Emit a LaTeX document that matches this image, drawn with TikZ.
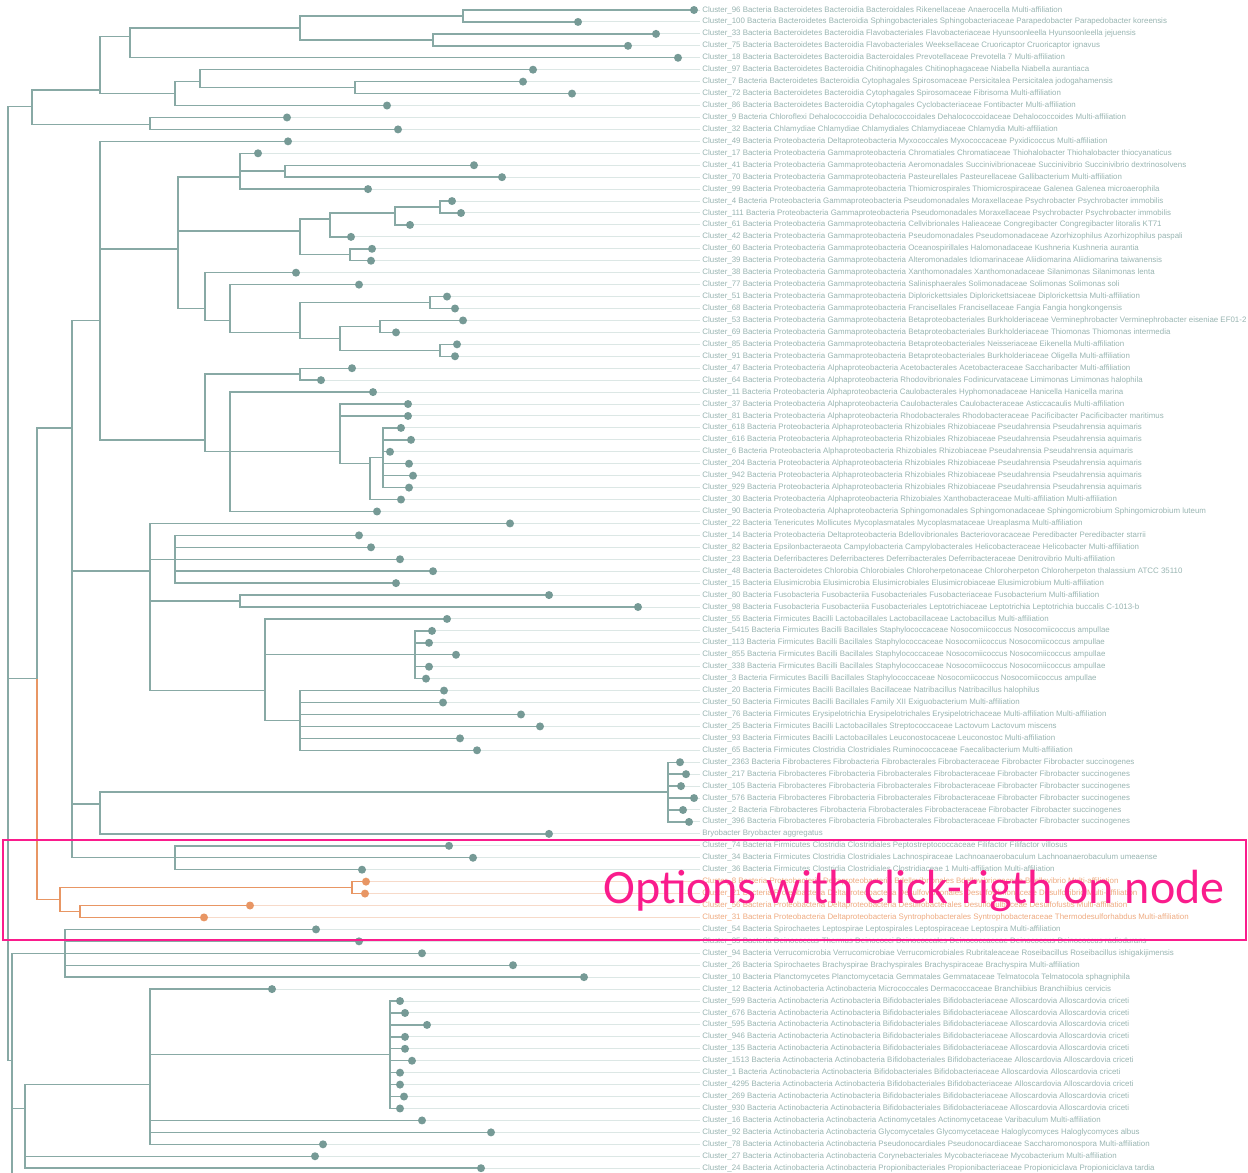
\documentclass[tikz,border=0pt]{standalone}
\usepackage{fontspec}
\setmainfont{Liberation Sans}
\newfontfamily\boxfont{Carlito}
\usetikzlibrary{calc}

\definecolor{treeline}{RGB}{136,169,165}
\definecolor{tipfill}{RGB}{118,154,150}
\definecolor{twigline}{RGB}{220,231,229}
\definecolor{labelgray}{RGB}{152,180,177}
\definecolor{pathorange}{RGB}{232,150,100}
\definecolor{labelorange}{RGB}{238,170,128}
\definecolor{hotpink}{RGB}{250,28,140}

\begin{document}
\begin{tikzpicture}[x=0.5pt, y=-5.97pt,
    branch/.style={draw=treeline, line width=0.7pt},
    hotbranch/.style={draw=pathorange, line width=0.7pt},
    twig/.style={draw=twigline, line width=0.5pt},
    leaflabel/.style={anchor=west, inner sep=1pt, text=labelgray, font=\fontsize{3.95}{4.4}\selectfont},
    hotlabel/.style={leaflabel, text=labelorange}]
    \useasboundingbox (0,-0.8375) rectangle (1248,97.40);

    % internal nodes
    \coordinate (rt)  at (8,52);
    \coordinate (cA)  at (32,8.1);
    \coordinate (bac) at (100,6.7);
    \coordinate (b04) at (130,2.2);
    \coordinate (b03) at (300,1.5);
    \coordinate (b01) at (463,0.5);
    \coordinate (b23) at (433,2.5);
    \coordinate (b58) at (175,7);
    \coordinate (b57) at (200,6);
    \coordinate (b67) at (355,6.5);
    \coordinate (cc)  at (150,9.6);
    \coordinate (mid) at (37,56);
    \coordinate (pro) at (72,35);
    \coordinate (prA) at (100,26);
    \coordinate (gam) at (178,20);
    \coordinate (g1215) at (240,14);
    \coordinate (g1314) at (285,13.5);
    \coordinate (g1621) at (300,18.5);
    \coordinate (g1619) at (330,17.5);
    \coordinate (g1618) at (395,17);
    \coordinate (g1617) at (440,16.5);
    \coordinate (g2021) at (350,20.5);
    \coordinate (g2229) at (205,25);
    \coordinate (g2329) at (230,26);
    \coordinate (g2425) at (430,24.5);
    \coordinate (g2429) at (300,27);
    \coordinate (b2629) at (340,27.5);
    \coordinate (b2627) at (380,26.5);
    \coordinate (b2829) at (440,28.5);
    \coordinate (alp) at (205,36);
    \coordinate (a3031) at (300,30.5);
    \coordinate (a3242) at (230,37);
    \coordinate (a3341) at (340,37);
    \coordinate (a3541) at (370,38);
    \coordinate (a3540) at (383,37.5);
    \coordinate (prB) at (150,47);
    \coordinate (p4448) at (175,46);
    \coordinate (fus) at (240,49.5);
    \coordinate (fir) at (265,57);
    \coordinate (sta) at (415,54);
    \coordinate (f5762) at (300,59.5);
    \coordinate (fib) at (100,66.5);
    \coordinate (fibr) at (668,65.5);
    \coordinate (clo) at (175,71);
    \coordinate (hot) at (37,74.5);
    \coordinate (o1) at (60,74.5);
    \coordinate (o2) at (352,73.5);
    \coordinate (o3) at (80,75.5);
    \coordinate (low) at (12,88);
    \coordinate (l7781) at (65,79);
    \coordinate (act) at (25,92);
    \coordinate (a8392) at (390,87.5);
    \coordinate (a8297) at (150,90);
    \coordinate (off) at (12,97.6);

    % internal links
    \foreach \p/\c in {rt/cA, rt/mid, rt/low, cA/bac, cA/cc, bac/b04, bac/b58,
        b04/b03, b03/b01, b03/b23, b58/b57, b57/b67,
        mid/pro, pro/prA, pro/prB, pro/fib, pro/clo, prA/gam, prA/alp,
        gam/g1215, g1215/g1314, gam/g1621, g1621/g1619, g1619/g1618, g1618/g1617,
        g1621/g2021, gam/g2229, g2229/g2329, g2329/g2429, g2429/g2425, g2429/b2629,
        b2629/b2627, b2629/b2829, alp/a3031, alp/a3242, a3242/a3341, a3341/a3541,
        a3541/a3540, prB/p4448, prB/fus, prB/fir, fir/sta, fir/f5762, fib/fibr,
        low/l7781, low/act, act/a8297, a8297/a8392, low/off}
        \draw[branch] (\p) |- (\c);
    \draw[hotbranch] (mid) -- (hot);
    \draw[hotbranch] (hot) -- (o1);
    \draw[hotbranch] (o1) |- (o2);
    \draw[hotbranch] (o1) |- (o3);

    % leaves
    \foreach \n/\r/\d/\p/\t in {
        t0/0/694/b01/Cluster\_96 Bacteria Bacteroidetes Bacteroidia Bacteroidales Rikenellaceae Anaerocella Multi-affiliation,
        t1/1/578/b01/Cluster\_100 Bacteria Bacteroidetes Bacteroidia Sphingobacteriales Sphingobacteriaceae Parapedobacter Parapedobacter koreensis,
        t2/2/656/b23/Cluster\_33 Bacteria Bacteroidetes Bacteroidia Flavobacteriales Flavobacteriaceae Hyunsoonleella Hyunsoonleella jejuensis,
        t3/3/628/b23/Cluster\_75 Bacteria Bacteroidetes Bacteroidia Flavobacteriales Weeksellaceae Cruoricaptor Cruoricaptor ignavus,
        t4/4/678/b04/Cluster\_18 Bacteria Bacteroidetes Bacteroidia Bacteroidales Prevotellaceae Prevotella 7 Multi-affiliation,
        t5/5/533/b57/Cluster\_97 Bacteria Bacteroidetes Bacteroidia Chitinophagales Chitinophagaceae Niabella Niabella aurantiaca,
        t6/6/523/b67/Cluster\_7 Bacteria Bacteroidetes Bacteroidia Cytophagales Spirosomaceae Persicitalea Persicitalea jodogahamensis,
        t7/7/572/b67/Cluster\_72 Bacteria Bacteroidetes Bacteroidia Cytophagales Spirosomaceae Fibrisoma Multi-affiliation,
        t8/8/387/b58/Cluster\_86 Bacteria Bacteroidetes Bacteroidia Cytophagales Cyclobacteriaceae Fontibacter Multi-affiliation,
        t9/9/287/cc/Cluster\_9 Bacteria Chloroflexi Dehalococcoidia Dehalococcoidales Dehalococcoidaceae Dehalococcoides Multi-affiliation,
        t10/10/398/cc/Cluster\_32 Bacteria Chlamydiae Chlamydiae Chlamydiales Chlamydiaceae Chlamydia Multi-affiliation,
        t11/11/288/prA/Cluster\_49 Bacteria Proteobacteria Deltaproteobacteria Myxococcales Myxococcaceae Pyxidicoccus Multi-affiliation,
        t12/12/258/g1215/Cluster\_17 Bacteria Proteobacteria Gammaproteobacteria Chromatiales Chromatiaceae Thiohalobacter Thiohalobacter thiocyanaticus,
        t13/13/474/g1314/Cluster\_41 Bacteria Proteobacteria Gammaproteobacteria Aeromonadales Succinivibrionaceae Succinivibrio Succinivibrio dextrinosolvens,
        t14/14/502/g1314/Cluster\_70 Bacteria Proteobacteria Gammaproteobacteria Pasteurellales Pasteurellaceae Gallibacterium Multi-affiliation,
        t15/15/368/g1215/Cluster\_99 Bacteria Proteobacteria Gammaproteobacteria Thiomicrospirales Thiomicrospiraceae Galenea Galenea microaerophila,
        t16/16/452/g1617/Cluster\_4 Bacteria Proteobacteria Gammaproteobacteria Pseudomonadales Moraxellaceae Psychrobacter Psychrobacter immobilis,
        t17/17/461/g1617/Cluster\_111 Bacteria Proteobacteria Gammaproteobacteria Pseudomonadales Moraxellaceae Psychrobacter Psychrobacter immobilis,
        t18/18/410/g1618/Cluster\_61 Bacteria Proteobacteria Gammaproteobacteria Cellvibrionales Halieaceae Congregibacter Congregibacter litoralis KT71,
        t19/19/351/g1619/Cluster\_42 Bacteria Proteobacteria Gammaproteobacteria Pseudomonadales Pseudomonadaceae Azorhizophilus Azorhizophilus paspali,
        t20/20/372/g2021/Cluster\_60 Bacteria Proteobacteria Gammaproteobacteria Oceanospirillales Halomonadaceae Kushneria Kushneria aurantia,
        t21/21/371/g2021/Cluster\_39 Bacteria Proteobacteria Gammaproteobacteria Alteromonadales Idiomarinaceae Aliidiomarina Aliidiomarina taiwanensis,
        t22/22/296/g2229/Cluster\_38 Bacteria Proteobacteria Gammaproteobacteria Xanthomonadales Xanthomonadaceae Silanimonas Silanimonas lenta,
        t23/23/359/g2329/Cluster\_77 Bacteria Proteobacteria Gammaproteobacteria Salinisphaerales Solimonadaceae Solimonas Solimonas soli,
        t24/24/447/g2425/Cluster\_51 Bacteria Proteobacteria Gammaproteobacteria Diplorickettsiales Diplorickettsiaceae Diplorickettsia Multi-affiliation,
        t25/25/455/g2425/Cluster\_68 Bacteria Proteobacteria Gammaproteobacteria Francisellales Francisellaceae Fangia Fangia hongkongensis,
        t26/26/463/b2627/Cluster\_53 Bacteria Proteobacteria Gammaproteobacteria Betaproteobacteriales Burkholderiaceae Verminephrobacter Verminephrobacter eiseniae EF01-2,
        t27/27/396/b2627/Cluster\_69 Bacteria Proteobacteria Gammaproteobacteria Betaproteobacteriales Burkholderiaceae Thiomonas Thiomonas intermedia,
        t28/28/457/b2829/Cluster\_85 Bacteria Proteobacteria Gammaproteobacteria Betaproteobacteriales Neisseriaceae Eikenella Multi-affiliation,
        t29/29/455/b2829/Cluster\_91 Bacteria Proteobacteria Gammaproteobacteria Betaproteobacteriales Burkholderiaceae Oligella Multi-affiliation,
        t30/30/352/a3031/Cluster\_47 Bacteria Proteobacteria Alphaproteobacteria Acetobacterales Acetobacteraceae Saccharibacter Multi-affiliation,
        t31/31/321/a3031/Cluster\_64 Bacteria Proteobacteria Alphaproteobacteria Rhodovibrionales Fodinicurvataceae Limimonas Limimonas halophila,
        t32/32/373/a3242/Cluster\_11 Bacteria Proteobacteria Alphaproteobacteria Caulobacterales Hyphomonadaceae Hanicella Hanicella marina,
        t33/33/408/a3341/Cluster\_37 Bacteria Proteobacteria Alphaproteobacteria Caulobacterales Caulobacteraceae Asticcacaulis Multi-affiliation,
        t34/34/408/a3341/Cluster\_81 Bacteria Proteobacteria Alphaproteobacteria Rhodobacterales Rhodobacteraceae Pacificibacter Pacificibacter maritimus,
        t35/35/401/a3540/Cluster\_618 Bacteria Proteobacteria Alphaproteobacteria Rhizobiales Rhizobiaceae Pseudahrensia Pseudahrensia aquimaris,
        t36/36/411/a3540/Cluster\_616 Bacteria Proteobacteria Alphaproteobacteria Rhizobiales Rhizobiaceae Pseudahrensia Pseudahrensia aquimaris,
        t37/37/390/a3540/Cluster\_6 Bacteria Proteobacteria Alphaproteobacteria Rhizobiales Rhizobiaceae Pseudahrensia Pseudahrensia aquimaris,
        t38/38/409/a3540/Cluster\_204 Bacteria Proteobacteria Alphaproteobacteria Rhizobiales Rhizobiaceae Pseudahrensia Pseudahrensia aquimaris,
        t39/39/413/a3540/Cluster\_942 Bacteria Proteobacteria Alphaproteobacteria Rhizobiales Rhizobiaceae Pseudahrensia Pseudahrensia aquimaris,
        t40/40/409/a3540/Cluster\_929 Bacteria Proteobacteria Alphaproteobacteria Rhizobiales Rhizobiaceae Pseudahrensia Pseudahrensia aquimaris,
        t41/41/401/a3541/Cluster\_30 Bacteria Proteobacteria Alphaproteobacteria Rhizobiales Xanthobacteraceae Multi-affiliation Multi-affiliation,
        t42/42/377/a3242/Cluster\_90 Bacteria Proteobacteria Alphaproteobacteria Sphingomonadales Sphingomonadaceae Sphingomicrobium Sphingomicrobium luteum,
        t43/43/510/prB/Cluster\_22 Bacteria Tenericutes Mollicutes Mycoplasmatales Mycoplasmataceae Ureaplasma Multi-affiliation,
        t44/44/359/p4448/Cluster\_14 Bacteria Proteobacteria Deltaproteobacteria Bdellovibrionales Bacteriovoracaceae Peredibacter Peredibacter starrii,
        t45/45/371/p4448/Cluster\_82 Bacteria Epsilonbacteraeota Campylobacteria Campylobacterales Helicobacteraceae Helicobacter Multi-affiliation,
        t46/46/400/p4448/Cluster\_23 Bacteria Deferribacteres Deferribacteres Deferribacterales Deferribacteraceae Denitrovibrio Multi-affiliation,
        t47/47/433/p4448/Cluster\_48 Bacteria Bacteroidetes Chlorobia Chlorobiales Chloroherpetonaceae Chloroherpeton Chloroherpeton thalassium ATCC 35110,
        t48/48/396/p4448/Cluster\_15 Bacteria Elusimicrobia Elusimicrobia Elusimicrobiales Elusimicrobiaceae Elusimicrobium Multi-affiliation,
        t49/49/549/fus/Cluster\_80 Bacteria Fusobacteria Fusobacteriia Fusobacteriales Fusobacteriaceae Fusobacterium Multi-affiliation,
        t50/50/638/fus/Cluster\_98 Bacteria Fusobacteria Fusobacteriia Fusobacteriales Leptotrichiaceae Leptotrichia Leptotrichia buccalis C-1013-b,
        t51/51/447/fir/Cluster\_55 Bacteria Firmicutes Bacilli Lactobacillales Lactobacillaceae Lactobacillus Multi-affiliation,
        t52/52/432/sta/Cluster\_5415 Bacteria Firmicutes Bacilli Bacillales Staphylococcaceae Nosocomiicoccus Nosocomiicoccus ampullae,
        t53/53/429/sta/Cluster\_113 Bacteria Firmicutes Bacilli Bacillales Staphylococcaceae Nosocomiicoccus Nosocomiicoccus ampullae,
        t54/54/456/sta/Cluster\_855 Bacteria Firmicutes Bacilli Bacillales Staphylococcaceae Nosocomiicoccus Nosocomiicoccus ampullae,
        t55/55/429/sta/Cluster\_338 Bacteria Firmicutes Bacilli Bacillales Staphylococcaceae Nosocomiicoccus Nosocomiicoccus ampullae,
        t56/56/426/sta/Cluster\_3 Bacteria Firmicutes Bacilli Bacillales Staphylococcaceae Nosocomiicoccus Nosocomiicoccus ampullae,
        t57/57/444/f5762/Cluster\_20 Bacteria Firmicutes Bacilli Bacillales Bacillaceae Natribacillus Natribacillus halophilus,
        t58/58/443/f5762/Cluster\_50 Bacteria Firmicutes Bacilli Bacillales Family XII Exiguobacterium Multi-affiliation,
        t59/59/521/f5762/Cluster\_76 Bacteria Firmicutes Erysipelotrichia Erysipelotrichales Erysipelotrichaceae Multi-affiliation Multi-affiliation,
        t60/60/540/f5762/Cluster\_25 Bacteria Firmicutes Bacilli Lactobacillales Streptococcaceae Lactovum Lactovum miscens,
        t61/61/460/f5762/Cluster\_93 Bacteria Firmicutes Bacilli Lactobacillales Leuconostocaceae Leuconostoc Multi-affiliation,
        t62/62/477/f5762/Cluster\_65 Bacteria Firmicutes Clostridia Clostridiales Ruminococcaceae Faecalibacterium Multi-affiliation,
        t63/63/680/fibr/Cluster\_2363 Bacteria Fibrobacteres Fibrobacteria Fibrobacterales Fibrobacteraceae Fibrobacter Fibrobacter succinogenes,
        t64/64/686/fibr/Cluster\_217 Bacteria Fibrobacteres Fibrobacteria Fibrobacterales Fibrobacteraceae Fibrobacter Fibrobacter succinogenes,
        t65/65/681/fibr/Cluster\_105 Bacteria Fibrobacteres Fibrobacteria Fibrobacterales Fibrobacteraceae Fibrobacter Fibrobacter succinogenes,
        t66/66/694/fibr/Cluster\_576 Bacteria Fibrobacteres Fibrobacteria Fibrobacterales Fibrobacteraceae Fibrobacter Fibrobacter succinogenes,
        t67/67/683/fibr/Cluster\_2 Bacteria Fibrobacteres Fibrobacteria Fibrobacterales Fibrobacteraceae Fibrobacter Fibrobacter succinogenes,
        t68/68/689/fibr/Cluster\_396 Bacteria Fibrobacteres Fibrobacteria Fibrobacterales Fibrobacteraceae Fibrobacter Fibrobacter succinogenes,
        t69/69/549/fib/Bryobacter Bryobacter aggregatus,
        t70/70/449/clo/Cluster\_74 Bacteria Firmicutes Clostridia Clostridiales Peptostreptococcaceae Filifactor Filifactor villosus,
        t71/71/473/clo/Cluster\_34 Bacteria Firmicutes Clostridia Clostridiales Lachnospiraceae Lachnoanaerobaculum Lachnoanaerobaculum umeaense,
        t72/72/362/clo/Cluster\_36 Bacteria Firmicutes Clostridia Clostridiales Clostridiaceae 1 Multi-affiliation Multi-affiliation,
        t77/77/316/l7781/Cluster\_54 Bacteria Spirochaetes Leptospirae Leptospirales Leptospiraceae Leptospira Multi-affiliation,
        t78/78/359/l7781/Cluster\_35 Bacteria Deinococcus-Thermus Deinococci Deinococcales Deinococcaceae Deinococcus Deinococcus radiodurans,
        t79/79/422/l7781/Cluster\_94 Bacteria Verrucomicrobia Verrucomicrobiae Verrucomicrobiales Rubritaleaceae Roseibacillus Roseibacillus ishigakijimensis,
        t80/80/513/l7781/Cluster\_26 Bacteria Spirochaetes Brachyspirae Brachyspirales Brachyspiraceae Brachyspira Multi-affiliation,
        t81/81/584/l7781/Cluster\_10 Bacteria Planctomycetes Planctomycetacia Gemmatales Gemmataceae Telmatocola Telmatocola sphagniphila,
        t82/82/272/a8297/Cluster\_12 Bacteria Actinobacteria Actinobacteria Micrococcales Dermacoccaceae Branchiibius Branchiibius cervicis,
        t83/83/400/a8392/Cluster\_599 Bacteria Actinobacteria Actinobacteria Bifidobacteriales Bifidobacteriaceae Alloscardovia Alloscardovia criceti,
        t84/84/405/a8392/Cluster\_676 Bacteria Actinobacteria Actinobacteria Bifidobacteriales Bifidobacteriaceae Alloscardovia Alloscardovia criceti,
        t85/85/427/a8392/Cluster\_595 Bacteria Actinobacteria Actinobacteria Bifidobacteriales Bifidobacteriaceae Alloscardovia Alloscardovia criceti,
        t86/86/405/a8392/Cluster\_946 Bacteria Actinobacteria Actinobacteria Bifidobacteriales Bifidobacteriaceae Alloscardovia Alloscardovia criceti,
        t87/87/405/a8392/Cluster\_135 Bacteria Actinobacteria Actinobacteria Bifidobacteriales Bifidobacteriaceae Alloscardovia Alloscardovia criceti,
        t88/88/412/a8392/Cluster\_1513 Bacteria Actinobacteria Actinobacteria Bifidobacteriales Bifidobacteriaceae Alloscardovia Alloscardovia criceti,
        t89/89/400/a8392/Cluster\_1 Bacteria Actinobacteria Actinobacteria Bifidobacteriales Bifidobacteriaceae Alloscardovia Alloscardovia criceti,
        t90/90/400/a8392/Cluster\_4295 Bacteria Actinobacteria Actinobacteria Bifidobacteriales Bifidobacteriaceae Alloscardovia Alloscardovia criceti,
        t91/91/404/a8392/Cluster\_269 Bacteria Actinobacteria Actinobacteria Bifidobacteriales Bifidobacteriaceae Alloscardovia Alloscardovia criceti,
        t92/92/400/a8392/Cluster\_930 Bacteria Actinobacteria Actinobacteria Bifidobacteriales Bifidobacteriaceae Alloscardovia Alloscardovia criceti,
        t93/93/422/a8297/Cluster\_16 Bacteria Actinobacteria Actinobacteria Actinomycetales Actinomycetaceae Varibaculum Multi-affiliation,
        t94/94/491/a8297/Cluster\_92 Bacteria Actinobacteria Actinobacteria Glycomycetales Glycomycetaceae Haloglycomyces Haloglycomyces albus,
        t95/95/323/a8297/Cluster\_78 Bacteria Actinobacteria Actinobacteria Pseudonocardiales Pseudonocardiaceae Saccharomonospora Multi-affiliation,
        t96/96/315/act/Cluster\_27 Bacteria Actinobacteria Actinobacteria Corynebacteriales Mycobacteriaceae Mycobacterium Multi-affiliation,
        t97/97/481/act/Cluster\_24 Bacteria Actinobacteria Actinobacteria Propionibacteriales Propionibacteriaceae Propioniciclava Propioniciclava tardia}
    {
        \coordinate (\n) at (\d,\r);
        \draw[branch] (\p) |- (\n);
        \node[leaflabel] (\n-t) at (700,\r) {\t};
        \draw[twig] (\n) -- (\n-t.west);
        \fill[tipfill] (\n) circle[radius=2pt];
    }

    % highlighted clade
    \foreach \n/\r/\d/\p/\t in {
        t73/73/366/o2/Cluster\_8 Bacteria Proteobacteria Deltaproteobacteria Bdellovibrionales Bdellovibrionaceae Bdellovibrio Multi-affiliation,
        t74/74/365/o2/Cluster\_21 Bacteria Proteobacteria Deltaproteobacteria Desulfovibrionales Desulfovibrionaceae Desulfovibrio Multi-affiliation,
        t75/75/250/o3/Cluster\_56 Bacteria Proteobacteria Deltaproteobacteria Desulfobacterales Desulfobulbaceae Desulfofustis Multi-affiliation,
        t76/76/204/o3/Cluster\_31 Bacteria Proteobacteria Deltaproteobacteria Syntrophobacterales Syntrophobacteraceae Thermodesulforhabdus Multi-affiliation}
    {
        \coordinate (\n) at (\d,\r);
        \draw[hotbranch] (\p) |- (\n);
        \node[hotlabel] (\n-t) at (700,\r) {\t};
        \draw[twig, draw=pathorange!35] (\n) -- (\n-t.west);
        \fill[pathorange] (\n) circle[radius=2pt];
    }

    % hint box
    \draw[hotpink, line width=1pt] (3,69.51) rectangle (1246,77.89);
    \node[text=hotpink, font=\boxfont\fontsize{24}{28}\selectfont, inner sep=0pt] (hint) at (914,73.75) {Options with click-rigth on node};
\end{tikzpicture}
\end{document}
